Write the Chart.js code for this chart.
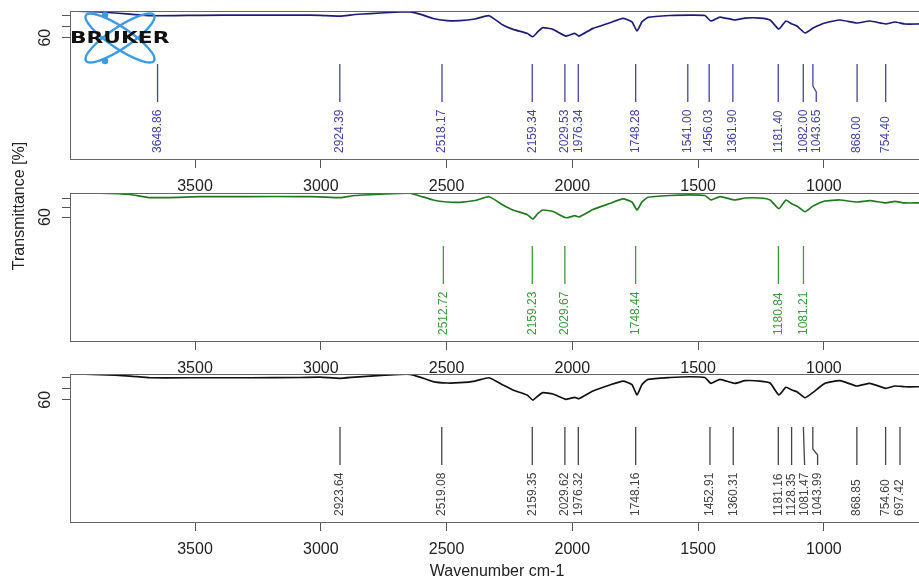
<!DOCTYPE html>
<html>
<head>
<meta charset="utf-8">
<title>FTIR spectra</title>
<script src="https://cdn.jsdelivr.net/npm/chart.js@4.4.1/dist/chart.umd.min.js"></script>
<style>
  html, body { margin: 0; padding: 0; background: #fff; overflow: hidden; }
  .wrap { position: relative; width: 919px; height: 583px; overflow: hidden; }
  .wrap canvas { position: absolute; left: 0; top: 0; }
</style>
</head>
<body>
<div class="wrap">
  <canvas id="panel1" width="930" height="583"></canvas>
  <canvas id="panel2" width="930" height="583"></canvas>
  <canvas id="panel3" width="930" height="583"></canvas>
</div>
<script>
// wavenumber (cm-1) sample points, shared by the three spectra
const wavenumbers = [3997, 3878, 3758, 3679, 3480, 3281, 3083, 3003, 2924, 2864,
  2804, 2685, 2645, 2606, 2554, 2498, 2447, 2387, 2331, 2276,
  2236, 2180, 2157, 2137, 2117, 2077, 2025, 1990, 1974, 1918,
  1851, 1799, 1763, 1743, 1723, 1699, 1612, 1532, 1473, 1449,
  1413, 1354, 1314, 1254, 1214, 1179, 1151, 1127, 1107, 1075,
  1043, 996, 936, 869, 817, 754, 718, 678, 622];

// transmittance [%]
const transmittance1 = [84.3, 83.4, 81.5, 80.0, 80.4, 80.6, 80.6, 80.4, 79.7, 81.1,
  82.0, 83.4, 83.5, 81.5, 77.5, 75.6, 75.5, 77.0, 80.0, 71.5,
  67.6, 64.0, 60.9, 65.5, 69.1, 67.6, 61.5, 64.0, 61.5, 68.5,
  73.6, 77.6, 74.5, 66.1, 74.5, 78.5, 80.2, 80.6, 80.2, 75.2,
  78.8, 76.1, 77.9, 77.9, 76.1, 67.9, 75.2, 72.5, 70.6, 64.3,
  68.8, 73.4, 76.1, 73.4, 75.2, 72.5, 74.3, 72.5, 72.5];
const transmittance2 = [85.8, 85.6, 84.2, 80.8, 81.8, 82.0, 82.0, 81.7, 80.8, 83.1,
  84.0, 85.5, 85.5, 82.6, 78.3, 76.1, 75.8, 77.7, 81.8, 72.9,
  67.5, 62.7, 57.8, 63.8, 67.5, 65.9, 59.2, 61.4, 60.0, 68.1,
  74.5, 79.4, 76.1, 67.5, 76.1, 81.2, 83.1, 83.7, 83.1, 78.3,
  82.0, 78.3, 80.4, 80.4, 78.3, 68.9, 78.3, 74.0, 71.8, 65.7,
  71.8, 77.2, 78.3, 76.1, 77.7, 75.1, 76.7, 75.1, 75.1];
const transmittance3 = [83.4, 82.9, 81.5, 80.0, 80.0, 80.0, 80.2, 80.5, 79.5, 80.6,
  81.5, 83.1, 83.1, 80.6, 76.5, 75.2, 75.5, 77.0, 80.0, 73.4,
  68.8, 64.3, 59.7, 63.4, 66.4, 65.2, 60.4, 62.2, 60.9, 67.9,
  73.4, 77.0, 73.8, 64.3, 73.8, 78.5, 80.2, 80.9, 80.2, 74.9,
  78.5, 74.9, 77.3, 77.0, 75.2, 64.3, 71.3, 68.8, 67.3, 61.8,
  66.7, 74.9, 77.3, 72.5, 74.9, 70.4, 72.5, 71.8, 71.8];

// picked peaks
const peaks1 = [3648.86, 2924.39, 2518.17, 2159.34, 2029.53, 1976.34, 1748.28, 1541.00,
  1456.03, 1361.90, 1181.40, 1082.00, 1043.65, 868.00, 754.40];
const peaks2 = [2512.72, 2159.23, 2029.67, 1748.44, 1180.84, 1081.21];
const peaks3 = [2923.64, 2519.08, 2159.35, 2029.62, 1976.32, 1748.16, 1452.91, 1360.31,
  1181.16, 1128.35, 1081.47, 1043.99, 868.85, 754.60, 697.42];

const xTicks = [3500, 3000, 2500, 2000, 1500, 1000];
const yTicks = [60, 70, 80];
const yTickLabel = 60;
const xRange = [602, 3997];

const FONT = '"Liberation Sans", Arial, Helvetica, sans-serif';

const drawLogo = function (ctx) {
  ctx.save();
  ctx.strokeStyle = '#3b9be2';
  ctx.fillStyle = '#3b9be2';
  ctx.lineWidth = 2.4;
  for (let r of [-0.59, 0.59]) {
    ctx.beginPath();
    ctx.ellipse(120, 38, 41, 10.5, r, 0, Math.PI * 2);
    ctx.stroke();
  }
  for (let p of [[105, 15], [105, 61]]) {
    ctx.beginPath();
    ctx.arc(p[0], p[1], 3.2, 0, Math.PI * 2);
    ctx.fill();
  }
  ctx.translate(70, 42.5);
  ctx.scale(1.45, 1);
  ctx.fillStyle = '#111';
  ctx.font = 'bold 15px "DejaVu Sans", sans-serif';
  ctx.textAlign = 'left';
  ctx.textBaseline = 'alphabetic';
  ctx.fillText('BRUKER', 0, 0);
  ctx.restore();
};

const decorPlugin = function (panel) {
  return {
    id: 'decor_' + panel.id,
    afterDatasetsDraw(chart) {
      const ctx = chart.ctx;
      const a = chart.chartArea;
      const xs = chart.scales.x;
      const ys = chart.scales.y;
      ctx.save();
      // frame
      ctx.strokeStyle = '#666';
      ctx.lineWidth = 1;
      ctx.strokeRect(Math.round(a.left) + 0.5, Math.round(a.top) + 0.5,
        Math.round(a.right - a.left), Math.round(a.bottom - a.top));

      // y label "60"
      ctx.fillStyle = '#222';
      ctx.font = '16px ' + FONT;
      ctx.textAlign = 'center';
      ctx.textBaseline = 'middle';
      ctx.save();
      ctx.translate(45.5, ys.getPixelForValue(yTickLabel));
      ctx.rotate(-Math.PI / 2);
      ctx.fillText(String(yTickLabel), 0, 0);
      ctx.restore();

      // peak markers
      const top = a.top + 53;
      const bottom = a.top + 91;
      const kink1 = top + 22;
      const kink2 = top + 28;
      let lastX = -1000;
      ctx.strokeStyle = panel.peakColor;
      ctx.fillStyle = panel.peakColor;
      ctx.lineWidth = 1.3;
      ctx.font = '12px ' + FONT;
      ctx.textAlign = 'left';
      ctx.textBaseline = 'middle';
      for (let wn of panel.peaks) {
        const px = xs.getPixelForValue(wn);
        const lx = Math.max(px, lastX + 13);
        lastX = lx;
        ctx.beginPath();
        if (lx - px > 1.5) {
          ctx.moveTo(px, top);
          ctx.lineTo(px, kink1);
          ctx.lineTo(lx, kink2);
          ctx.lineTo(lx, bottom);
        } else {
          ctx.moveTo(px, top);
          ctx.lineTo(lx, bottom);
        }
        ctx.stroke();
        ctx.save();
        ctx.translate(lx, a.top + 142);
        ctx.rotate(-Math.PI / 2);
        ctx.fillText(wn.toFixed(2), 0, 0);
        ctx.restore();
      }

      if (panel.logo) drawLogo(ctx);

      if (panel.yTitle) {
        ctx.save();
        ctx.fillStyle = '#222';
        ctx.font = '16px ' + FONT;
        ctx.textAlign = 'center';
        ctx.textBaseline = 'middle';
        ctx.translate(20, 206);
        ctx.rotate(-Math.PI / 2);
        ctx.fillText(panel.yTitle, 0, 0);
        ctx.restore();
      }
      ctx.restore();
    }
  };
};

const makePanel = function (panel) {
  const points = wavenumbers.map((wn, i) => ({ x: wn, y: panel.values[i] }));
  const xAxisHeight = panel.xTitle ? 583 - panel.bottom : 40;
  return new Chart(document.getElementById(panel.id), {
    type: 'line',
    data: {
      datasets: [{
        data: points,
        borderColor: panel.lineColor,
        borderWidth: 1.7,
        pointRadius: 0,
        tension: 0.15,
        fill: false
      }]
    },
    options: {
      responsive: false,
      animation: false,
      events: [],
      layout: {
        padding: { top: panel.top, bottom: 583 - panel.bottom - xAxisHeight, left: 0, right: 6 }
      },
      plugins: { legend: { display: false }, tooltip: { enabled: false } },
      scales: {
        x: {
          type: 'linear',
          reverse: true,
          min: xRange[0],
          max: xRange[1],
          afterBuildTicks: (s) => { s.ticks = xTicks.map(v => ({ value: v })); },
          afterFit: (s) => { s.height = xAxisHeight; },
          border: { display: false },
          grid: { drawOnChartArea: false, drawTicks: true, tickLength: 9, color: '#555', lineWidth: 1 },
          ticks: {
            color: '#222', padding: 9, maxRotation: 0, autoSkip: false,
            font: { family: FONT, size: 16 },
            callback: (v) => String(v)
          },
          title: {
            display: !!panel.xTitle,
            text: panel.xTitle || '',
            color: '#222',
            font: { family: FONT, size: 16 },
            padding: { top: 0, bottom: 2 }
          }
        },
        y: {
          min: panel.yMin,
          max: panel.yMax,
          afterBuildTicks: (s) => { s.ticks = yTicks.map(v => ({ value: v })); },
          afterFit: (s) => { s.width = 70; },
          border: { display: false },
          grid: { drawOnChartArea: false, drawTicks: true, tickLength: 8, color: '#555', lineWidth: 1 },
          ticks: { display: false }
        }
      }
    },
    plugins: [decorPlugin(panel)]
  });
};

document.addEventListener('DOMContentLoaded', function () {
  makePanel({ id: 'panel1', values: transmittance1, peaks: peaks1, top: 11, bottom: 159,
    yMin: -50.3, yMax: 84.3, lineColor: '#1c1c78', peakColor: '#4444a4', logo: true });
  makePanel({ id: 'panel2', values: transmittance2, peaks: peaks2, top: 193, bottom: 341,
    yMin: -73.3, yMax: 85.8, lineColor: '#1f7a1f', peakColor: '#3d9a3d', yTitle: 'Transmittance [%]' });
  makePanel({ id: 'panel3', values: transmittance3, peaks: peaks3, top: 374, bottom: 522,
    yMin: -51.2, yMax: 83.4, lineColor: '#111111', peakColor: '#444444', xTitle: 'Wavenumber cm-1' });
});
</script>
</body>
</html>
